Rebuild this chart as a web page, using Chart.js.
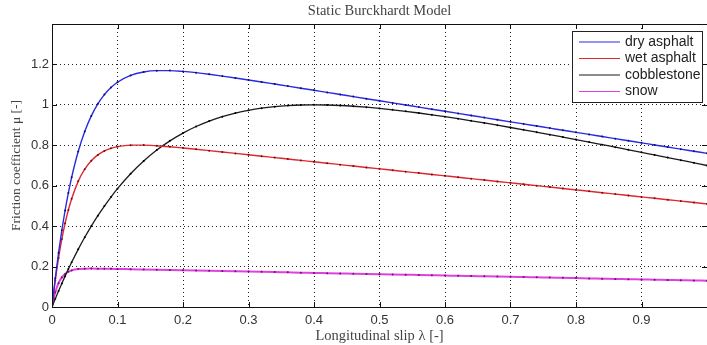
<!DOCTYPE html>
<html>
<head>
<meta charset="utf-8">
<script src="https://cdn.jsdelivr.net/npm/chart.js@4/dist/chart.umd.min.js"></script>
<style>
  html, body { margin: 0; padding: 0; background: #fff; overflow: hidden; }
</style>
</head>
<body>
<canvas id="chart" width="707" height="345"></canvas>
<script>
// slip values (x)
const slip = [0, 0.005, 0.01, 0.015, 0.02, 0.025, 0.03, 0.04, 0.05, 0.06, 0.07, 0.08, 0.09,
  0.1, 0.12, 0.14, 0.16, 0.18, 0.2, 0.22, 0.24, 0.26, 0.28, 0.3, 0.32, 0.34, 0.36, 0.38,
  0.4, 0.42, 0.44, 0.46, 0.48, 0.5, 0.52, 0.54, 0.56, 0.58, 0.6, 0.62, 0.64, 0.66, 0.68,
  0.7, 0.72, 0.74, 0.76, 0.78, 0.8, 0.82, 0.84, 0.86, 0.88, 0.9, 0.92, 0.94, 0.96, 0.98, 1.0];

const dryAsphalt = [0, 0.1421, 0.2678, 0.3791, 0.4774, 0.5644, 0.6413, 0.7690, 0.8684, 0.9454, 1.0050, 1.0507, 1.0855,
  1.1119, 1.1458, 1.1628, 1.1693, 1.1695, 1.1655, 1.1592, 1.1513, 1.1424, 1.1330, 1.1231, 1.1131, 1.1029, 1.0927, 1.0824,
  1.0720, 1.0617, 1.0513, 1.0409, 1.0305, 1.0201, 1.0097, 0.9993, 0.9889, 0.9785, 0.9681, 0.9577, 0.9473, 0.9369, 0.9265,
  0.9161, 0.9057, 0.8953, 0.8849, 0.8745, 0.8641, 0.8537, 0.8433, 0.8329, 0.8225, 0.8121, 0.8017, 0.7913, 0.7809, 0.7705, 0.7601];

const wetAsphalt = [0, 0.1316, 0.2425, 0.3358, 0.4143, 0.4804, 0.5359, 0.6216, 0.6817, 0.7236, 0.7524, 0.7720, 0.7849,
  0.7932, 0.8006, 0.8009, 0.7977, 0.7926, 0.7866, 0.7802, 0.7735, 0.7667, 0.7598, 0.7529, 0.7460, 0.7390, 0.7321, 0.7251,
  0.7182, 0.7113, 0.7043, 0.6974, 0.6904, 0.6835, 0.6766, 0.6696, 0.6627, 0.6557, 0.6488, 0.6419, 0.6349, 0.6280, 0.6210,
  0.6141, 0.6072, 0.6002, 0.5933, 0.5863, 0.5794, 0.5725, 0.5655, 0.5586, 0.5516, 0.5447, 0.5378, 0.5308, 0.5239, 0.5169, 0.5100];

const cobblestone = [0, 0.0402, 0.0791, 0.1165, 0.1527, 0.1877, 0.2214, 0.2853, 0.3448, 0.4002, 0.4517, 0.4996, 0.5440,
  0.5853, 0.6591, 0.7223, 0.7762, 0.8219, 0.8605, 0.8928, 0.9196, 0.9415, 0.9591, 0.9729, 0.9835, 0.9912, 0.9963, 0.9992,
  1.0001, 0.9992, 0.9969, 0.9932, 0.9883, 0.9824, 0.9756, 0.9680, 0.9597, 0.9508, 0.9414, 0.9314, 0.9211, 0.9104, 0.8993,
  0.8880, 0.8764, 0.8646, 0.8527, 0.8405, 0.8282, 0.8158, 0.8032, 0.7906, 0.7778, 0.7650, 0.7521, 0.7392, 0.7262, 0.7131, 0.7000];

const snow = [0, 0.0727, 0.1180, 0.1462, 0.1637, 0.1745, 0.1811, 0.1875, 0.1896, 0.1900, 0.1898, 0.1893, 0.1888,
  0.1881, 0.1869, 0.1856, 0.1843, 0.1830, 0.1817, 0.1804, 0.1791, 0.1778, 0.1765, 0.1752, 0.1739, 0.1726, 0.1713, 0.1700,
  0.1688, 0.1675, 0.1662, 0.1649, 0.1636, 0.1623, 0.1610, 0.1597, 0.1584, 0.1571, 0.1558, 0.1546, 0.1533, 0.1520, 0.1507,
  0.1494, 0.1481, 0.1468, 0.1455, 0.1442, 0.1429, 0.1416, 0.1403, 0.1390, 0.1378, 0.1365, 0.1352, 0.1339, 0.1326, 0.1313, 0.1300];

const seriesNames = ["dry asphalt", "wet asphalt", "cobblestone", "snow"];
const seriesData = [dryAsphalt, wetAsphalt, cobblestone, snow];
const lineColors = ["#2a2ae6", "#e0262e", "#1a1a1a", "#e040e0"];
const dotColors = ["#101060", "#701010", "#000000", "#701070"];
const lineWidths = [1.4, 1.4, 1.3, 2];

const titleText = "Static Burckhardt Model";
const serif = "'Liberation Serif', 'DejaVu Serif', serif";
const sans = "'Liberation Sans', Arial, sans-serif";

const datasets = seriesNames.map((name, i) => ({
  label: name,
  data: slip.map((x, j) => ({ x: x, y: seriesData[i][j] })),
  borderColor: lineColors[i],
  borderWidth: lineWidths[i],
  backgroundColor: dotColors[i],
  pointRadius: 1,
  pointBorderWidth: 0,
  pointBackgroundColor: dotColors[i],
  cubicInterpolationMode: "monotone"
}));

// title over the axes, frame, inward ticks and legend box
const framePlugin = {
  id: "frame",
  afterDraw(chart) {
    const ctx = chart.ctx;
    const a = chart.chartArea;
    const xs = chart.scales.x, ys = chart.scales.y;
    ctx.save();

    ctx.fillStyle = "#444";
    ctx.font = "14.5px " + serif;
    ctx.textAlign = "center";
    ctx.textBaseline = "middle";
    ctx.fillText(titleText, (a.left + a.right) / 2, 11);
    ctx.textAlign = "left";

    ctx.strokeStyle = "#111";
    ctx.lineWidth = 1;
    ctx.strokeRect(a.left + 0.5, a.top + 0.5, a.right - a.left, a.bottom - a.top);
    ctx.beginPath();
    xs.ticks.forEach(t => {
      const px = Math.round(xs.getPixelForValue(t.value)) + 0.5;
      ctx.moveTo(px, a.bottom); ctx.lineTo(px, a.bottom - 5);
      ctx.moveTo(px, a.top); ctx.lineTo(px, a.top + 5);
    });
    ys.ticks.forEach(t => {
      const py = Math.round(ys.getPixelForValue(t.value)) + 0.5;
      ctx.moveTo(a.left, py); ctx.lineTo(a.left + 5, py);
      ctx.moveTo(a.right, py); ctx.lineTo(a.right - 5, py);
    });
    ctx.stroke();

    // legend (top right of the axes)
    const bx = 572, by = a.top + 7, bw = 130, bh = 71;
    ctx.fillStyle = "#fff";
    ctx.fillRect(bx, by, bw, bh);
    ctx.strokeStyle = "#222";
    ctx.strokeRect(bx + 0.5, by + 0.5, bw, bh);
    ctx.font = "14px " + sans;
    chart.data.datasets.forEach((ds, i) => {
      const y = by + 11 + i * 16.5;
      ctx.strokeStyle = ds.borderColor;
      ctx.lineWidth = 1.2;
      ctx.beginPath();
      ctx.moveTo(bx + 7, y); ctx.lineTo(bx + 48, y);
      ctx.stroke();
      ctx.fillStyle = "#222";
      ctx.fillText(ds.label, bx + 53, y);
    });
    ctx.restore();
  }
};

new Chart(document.getElementById("chart"), {
  type: "line",
  data: { datasets: datasets },
  plugins: [framePlugin],
  options: {
    responsive: false,
    animation: false,
    layout: { autoPadding: false, padding: { right: -3, top: 24, left: 0, bottom: 0 } },
    plugins: {
      legend: { display: false },
      tooltip: { enabled: false },
      title: { display: false }
    },
    scales: {
      x: {
        type: "linear",
        min: 0,
        max: 1,
        afterFit: s => { s.height = 38; s.paddingRight = 0; s.paddingLeft = 0; },
        ticks: {
          stepSize: 0.1,
          padding: 6,
          color: "#333",
          font: { family: sans, size: 13 },
          callback: v => (v > 0.95 ? "" : String(Number(v.toFixed(1))))
        },
        grid: {
          color: "#222",
          lineWidth: 1,
          drawTicks: false
        },
        border: { display: false, dash: [1, 3] },
        title: {
          display: true,
          text: "Longitudinal slip λ [-]",
          color: "#444",
          font: { family: serif, size: 14.5 },
          padding: { top: 0, bottom: 0 }
        }
      },
      y: {
        type: "linear",
        min: 0,
        max: 1.4,
        afterFit: s => { s.width = 52; s.paddingTop = 0; s.paddingBottom = 0; },
        ticks: {
          stepSize: 0.2,
          padding: 3,
          color: "#333",
          font: { family: sans, size: 13 },
          callback: v => (v > 1.3 ? "" : String(Number(v.toFixed(1))))
        },
        grid: {
          color: "#222",
          lineWidth: 1,
          drawTicks: false
        },
        border: { display: false, dash: [1, 3] },
        title: {
          display: true,
          text: "Friction coefficient μ [-]",
          color: "#444",
          font: { family: serif, size: 13.5 },
          padding: { top: 8, bottom: 0 }
        }
      }
    }
  }
});
</script>
</body>
</html>
